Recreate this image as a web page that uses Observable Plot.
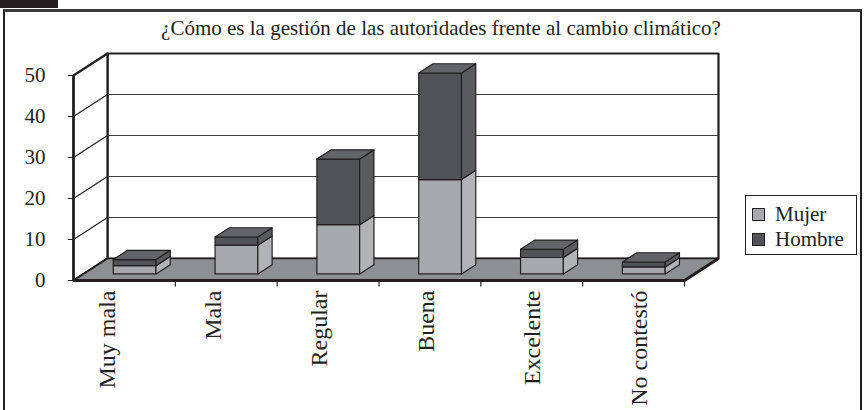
<!DOCTYPE html>
<html><head><meta charset="utf-8">
<script src="https://cdn.jsdelivr.net/npm/d3@7"></script>
<script src="https://cdn.jsdelivr.net/npm/@observablehq/plot@0.6"></script>
<style>
body{margin:0;background:#fff;}
#wrap{position:relative;width:864px;height:410px;overflow:hidden;color:#231f20;font-family:'Liberation Serif','Times New Roman',serif;}
#hdr{position:absolute;left:0;top:0;width:58px;height:8px;background:#231f20;}
#frame{position:absolute;left:3px;top:9px;width:855px;height:420px;border-top:3px solid #3a3a3a;border-left:2px solid #231f20;border-right:2px solid #231f20;}
#title{position:absolute;left:9px;width:864px;top:16px;text-align:center;font-size:21px;white-space:nowrap;}
#chart{position:absolute;left:0;top:0;}
#legend{position:absolute;left:745px;top:195px;width:112px;height:60px;border:1.5px solid #231f20;font-size:21px;box-sizing:border-box;}
.li{position:absolute;left:6px;height:24px;line-height:24px;white-space:nowrap;}
.sw{display:inline-block;width:11px;height:11px;border:1px solid #231f20;margin-right:10px;vertical-align:middle;position:relative;top:-2px;}
</style>
</head><body>
<div id="wrap">
  <div id="frame"></div>
  <div id="hdr"></div>
  <div id="chart"></div>
  <div id="title">¿Cómo es la gestión de las autoridades frente al cambio climático?</div>
  <div id="legend"></div>
</div>
<script>
// ---- data ----
const categories = ["Muy mala", "Mala", "Regular", "Buena", "Excelente", "No contestó"];
const mujer  = [2, 7, 12, 23, 4, 1.7];
const hombre = [1.5, 2, 16, 26, 2, 1.2];
const seriesNames = ["Mujer", "Hombre"];
const yTicks = [0, 10, 20, 30, 40, 50];

// ---- styles ----
const colors = {
  Mujer:  {front: "#a8a9ad", side: "#b2b3b7", top: "#bcbdc1"},
  Hombre: {front: "#525356", side: "#5a5b5e", top: "#636467"}
};
const ink = "#231f20";
const serif = "'Liberation Serif','Times New Roman',serif";

// ---- layout (pixel geometry -> data units) ----
const W = 864, H = 410;
const mL = 73, mR = 180, mT = 75, mB = 130;
const xUnit = (W - mL - mR) / 6;
const yUnit = (H - mT - mB) / 50;
const DX = 34 / xUnit, DY = 22 / yUnit;     // floor depth
const F0 = 0.30, F1 = 0.72;                 // bar front / back depth fraction
const BW = 0.21;                            // half bar width
const n = categories.length;

// ---- faces ----
const faces = [];
let fid = 0;
function poly(pts, fill) {
  const id = fid++;
  for (const [x, y] of pts) faces.push({id, x, y, fill});
}
categories.forEach((c, i) => {
  const vals = [mujer[i], hombre[i]];
  let base = 0;
  const ox = F0 * DX, oy = F0 * DY;
  const bdx = (F1 - F0) * DX, bdy = (F1 - F0) * DY;
  const xl = i + 0.5 - BW + ox, xr = i + 0.5 + BW + ox;
  vals.forEach((v, s) => {
    const col = colors[seriesNames[s]];
    const y0 = base + oy, y1 = base + v + oy;
    poly([[xl, y0], [xr, y0], [xr, y1], [xl, y1]], col.front);
    poly([[xr, y0], [xr + bdx, y0 + bdy], [xr + bdx, y1 + bdy], [xr, y1]], col.side);
    if (s === vals.length - 1)
      poly([[xl, y1], [xr, y1], [xr + bdx, y1 + bdy], [xl + bdx, y1 + bdy]], col.top);
    base += v;
  });
});

const walls = [];
const backWall = [[DX, DY], [n + DX, DY], [n + DX, 50 + DY], [DX, 50 + DY]];
const leftWall = [[0, 0], [DX, DY], [DX, 50 + DY], [0, 50]];
const floor = [[0, 0], [n, 0], [n + DX, DY], [DX, DY]];
backWall.forEach(([x, y]) => walls.push({id: "b", x, y}));
leftWall.forEach(([x, y]) => walls.push({id: "l", x, y}));
const floorPts = floor.map(([x, y]) => ({x, y}));

const catTicks = d3.range(1, n + 1);

const plot = Plot.plot({
  width: W, height: H,
  marginLeft: mL, marginRight: mR, marginTop: mT, marginBottom: mB,
  x: {domain: [0, n], axis: null},
  y: {domain: [0, 50], ticks: yTicks, tickSize: 5, tickPadding: 23, label: null, tickFormat: d => String(d)},
  color: {type: "identity"},
  style: {background: "transparent", fontFamily: serif, fontSize: "21px", color: ink},
  marks: [
    Plot.line(walls, {x: "x", y: "y", z: "id", curve: "linear-closed", fill: "white", stroke: ink, strokeWidth: 2.2}),
    Plot.ruleY(yTicks.slice(1, -1), {y: d => d + DY, x1: DX, x2: n + DX, stroke: "#3c3c3c", strokeWidth: 1.2}),
    Plot.link(yTicks.slice(1, -1), {x1: 0, y1: d => d, x2: DX, y2: d => d + DY, stroke: ink, strokeWidth: 1.2}),
    Plot.line(floorPts, {x: "x", y: "y", curve: "linear-closed", fill: "#8e8f92", stroke: ink, strokeWidth: 1.5}),
    Plot.ruleY([0], {x1: 0, x2: n, stroke: ink, strokeWidth: 3}),
    Plot.link([n], {x1: d => d, y1: 0, x2: d => d + DX, y2: DY, stroke: ink, strokeWidth: 3}),
    Plot.ruleX([0], {y1: 0, y2: 50, stroke: ink, strokeWidth: 2.5}),
    Plot.link(catTicks, {x1: d => d, x2: d => d, y1: 0, y2: -6 / yUnit, stroke: ink, strokeWidth: 1.2}),
    Plot.line(faces, {x: "x", y: "y", z: "id", fill: "fill", curve: "linear-closed", stroke: ink, strokeWidth: 1.2}),
    Plot.text(categories, {
      x: (d, i) => i + 0.5 - 0.172 + 0.045 * i,
      y: 0, text: d => d, rotate: -90, textAnchor: "end", dy: 10,
      fontSize: 24, fill: ink, fontFamily: serif
    })
  ]
});
document.getElementById("chart").appendChild(plot);

// ---- legend ----
const lg = document.getElementById("legend");
seriesNames.forEach((s, k) => {
  const d = document.createElement("div");
  d.className = "li";
  d.style.top = (6 + k * 25) + "px";
  d.innerHTML = `<span class="sw" style="background:${colors[s].front}"></span>${s}`;
  lg.appendChild(d);
});
</script>
</body></html>
